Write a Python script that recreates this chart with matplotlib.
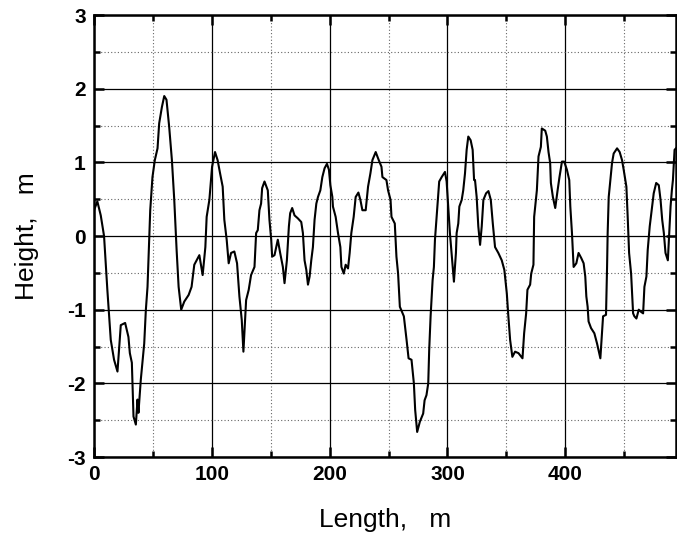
import matplotlib.pyplot as plt
from matplotlib.ticker import MultipleLocator

# profile
length = [0, 2.8, 5.7, 8.5, 11.3, 14.2, 17, 19.9, 22.7, 26.4, 29.2, 30.4, 32.1, 33.5, 35.5,
          36.9, 37.7, 39.7, 42.6, 44, 45.4, 46.8, 47.7, 49.6, 51.6, 53.9, 55.3, 57.6, 59.6,
          61.5, 63.8, 66.1, 68.1, 70.1, 71.8, 74, 76.6, 80.3, 82.8, 85.1, 89.4, 92.2, 94.5,
          95.6, 97.9, 100.2, 102.7, 104.9, 107, 109.2, 110.6, 112.6, 114.3, 116.3, 119.1,
          121.4, 123.4, 125.4, 126.8, 129.1, 131.3, 133.3, 136.2, 137.6, 139, 140.4, 141.8,
          142.7, 144.7, 147.5, 148.9, 150.4, 151.2, 153.2, 156, 158, 160.3, 161.7, 163.7,
          165.4, 166.5, 168.2, 170.2, 173, 175.9, 177.3, 178.7, 180.2, 181.6, 183, 184.4,
          185.8, 187.2, 188.7, 190.1, 192.1, 193.8, 195.7, 197.7, 199.4, 200.6, 202.3,
          202.8, 205.1, 207.1, 209.1, 210, 212, 213.6, 215.6, 217, 218.4, 220.4, 222.1,
          224.4, 226.1, 227.8, 230.6, 232.6, 234.6, 236.3, 239.1, 241.7, 244, 244.8, 248.2,
          249.6, 251.7, 252.5, 255.3, 256.7, 258.1, 259.6, 263, 265.3, 267, 269.5, 271.5,
          272.6, 274.3, 276.6, 279.4, 280.6, 282.2, 283.7, 284.5, 285.7, 287.4, 288.5,
          289.4, 290.8, 293, 295.1, 297.9, 299.3, 300.7, 302.1, 303.5, 305.5, 307.2, 307.8,
          309.2, 310.1, 312.1, 313.4, 314.9, 316.3, 317.7, 319.7, 321.4, 322.6, 323.4,
          324.8, 326.2, 327.7, 329.1, 330.5, 332.8, 334.8, 336.8, 338.5, 340.4, 343.2,
          346.1, 348.3, 350.4, 351.7, 353.2, 355.1, 357.4, 360.3, 363.7, 365.1, 366.8,
          367.9, 370.2, 371.1, 373, 373.6, 375.9, 377.3, 379.3, 380.1, 383, 384.4, 385.8,
          387.2, 387.8, 389.5, 391.5, 393.5, 395.1, 397.2, 399.1, 401.4, 403.4, 404.3,
          405.7, 407.1, 409.4, 411.3, 413.6, 415.6, 417, 417.9, 419, 419.8, 421.9, 424.7,
          427, 429.8, 431.2, 432.1, 434.6, 435.5, 436, 436.9, 438.3, 439.7, 441.1, 444,
          446.2, 448.2, 449.6, 451.9, 453, 454.2, 455.9, 457.6, 458.7, 460.4, 462.4, 464.4,
          466.1, 467.2, 468.9, 470, 471.7, 473.7, 475.1, 477.2, 479.4, 480.9, 482.3, 483.7,
          485.1, 487.1, 488.3, 489.4, 490.5, 491.4, 492.8, 495.1]
height = [0.35, 0.47, 0.28, 0.0, -0.73, -1.41, -1.68, -1.84, -1.21, -1.18, -1.37, -1.59, -1.72,
          -2.45, -2.56, -2.22, -2.4, -1.95, -1.46, -1.0, -0.69, -0.05, 0.35, 0.8, 1.03, 1.19,
          1.53, 1.75, 1.9, 1.85, 1.48, 1.03, 0.49, -0.19, -0.69, -1.0, -0.89, -0.8, -0.69,
          -0.39, -0.26, -0.53, -0.15, 0.26, 0.49, 0.94, 1.14, 1.03, 0.85, 0.67, 0.22, -0.05,
          -0.37, -0.23, -0.21, -0.37, -0.82, -1.14, -1.57, -0.87, -0.73, -0.53, -0.42, 0.04,
          0.08, 0.35, 0.44, 0.65, 0.74, 0.62, 0.22, -0.05, -0.28, -0.26, -0.05, -0.23, -0.42,
          -0.64, -0.33, 0.13, 0.31, 0.38, 0.28, 0.24, 0.19, 0.04, -0.33, -0.46, -0.66, -0.55,
          -0.33, -0.15, 0.22, 0.44, 0.53, 0.62, 0.8, 0.92, 0.98, 0.9, 0.69, 0.53, 0.4, 0.26,
          0.04, -0.15, -0.42, -0.51, -0.39, -0.44, -0.23, 0.04, 0.26, 0.53, 0.59, 0.49, 0.35,
          0.35, 0.67, 0.85, 1.03, 1.14, 1.03, 0.94, 0.8, 0.76, 0.62, 0.49, 0.26, 0.17, -0.28,
          -0.51, -0.96, -1.09, -1.41, -1.66, -1.68, -2.0, -2.36, -2.66, -2.52, -2.41, -2.23,
          -2.16, -2.0, -1.55, -1.09, -0.6, -0.42, -0.05, 0.26, 0.74, 0.8, 0.87, 0.74, 0.4,
          0.04, -0.23, -0.62, -0.23, 0.04, 0.17, 0.4, 0.49, 0.62, 0.85, 1.17, 1.35, 1.3, 1.17,
          0.76, 0.76, 0.53, 0.13, -0.12, 0.13, 0.49, 0.58, 0.61, 0.49, 0.17, -0.15, -0.23,
          -0.33, -0.46, -0.78, -1.09, -1.41, -1.64, -1.57, -1.59, -1.66, -1.32, -1.05, -0.73,
          -0.66, -0.51, -0.39, 0.26, 0.62, 1.08, 1.21, 1.46, 1.43, 1.35, 1.14, 0.99, 0.72,
          0.53, 0.38, 0.62, 0.8, 1.01, 1.01, 0.9, 0.76, 0.4, 0.04, -0.42, -0.37, -0.23, -0.3,
          -0.37, -0.55, -0.82, -0.96, -1.16, -1.25, -1.32, -1.46, -1.66, -1.32, -1.09, -1.07,
          -0.42, 0.04, 0.53, 0.76, 0.99, 1.12, 1.19, 1.14, 1.03, 0.9, 0.67, 0.26, -0.23,
          -0.51, -1.05, -1.09, -1.12, -1.0, -1.03, -1.05, -0.69, -0.55, -0.19, 0.13, 0.4,
          0.58, 0.72, 0.69, 0.49, 0.22, 0.04, -0.23, -0.33, 0.04, 0.4, 0.62, 0.76, 1.17, 1.21]

plt.rcParams['font.family'] = ['Liberation Sans', 'DejaVu Sans']
plt.rcParams['axes.unicode_minus'] = False

fig = plt.figure(figsize=(6.77, 5.42), dpi=100)
ax = fig.add_axes([0.1389, 0.1568, 0.8596, 0.8155])

ax.plot(length, height, color='black', linewidth=1.5)

ax.set_xlim(0, 494)
ax.set_ylim(-3, 3)
ax.xaxis.set_major_locator(MultipleLocator(100))
ax.xaxis.set_minor_locator(MultipleLocator(50))
ax.yaxis.set_major_locator(MultipleLocator(1))
ax.yaxis.set_minor_locator(MultipleLocator(0.5))

ax.grid(which='major', color='black', linewidth=0.9, linestyle='-')
ax.grid(which='minor', color='#666666', linewidth=0.8, linestyle=(0, (1, 2)))

ax.tick_params(which='both', direction='in', top=True, right=True, width=1.8)
ax.tick_params(which='major', length=7, labelsize=15, pad=6)
ax.tick_params(which='minor', length=4)
for lab in ax.get_xticklabels() + ax.get_yticklabels():
    lab.set_fontweight('bold')
for sp in ax.spines.values():
    sp.set_linewidth(1.8)

ax.set_xlabel('Length,   m', fontsize=19, labelpad=17)
ax.set_ylabel('Height,   m', fontsize=19, labelpad=20)

plt.savefig('out.png', dpi=100)
